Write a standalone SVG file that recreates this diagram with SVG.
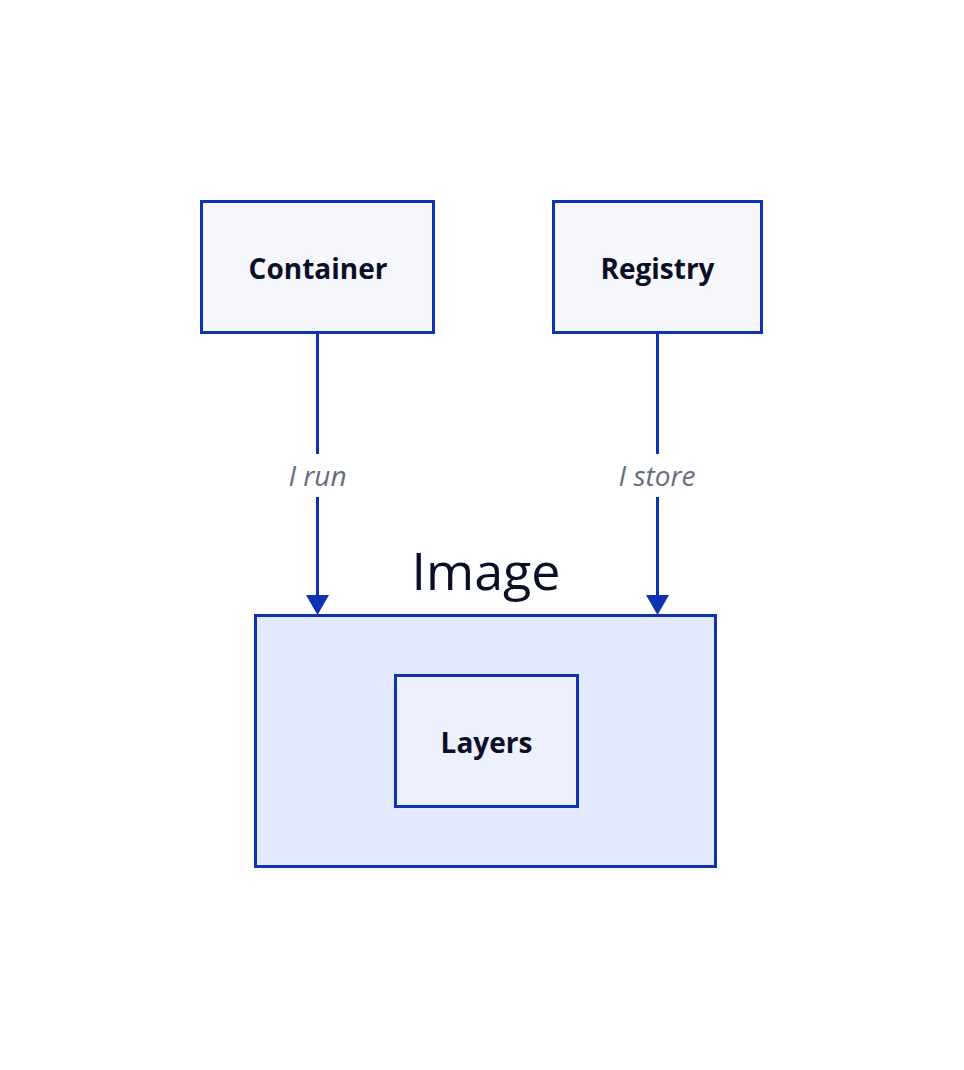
<svg xmlns="http://www.w3.org/2000/svg" width="964" height="1070" viewBox="0 0 964 1070">
<style>
.box{stroke:#0D32B2;stroke-width:3;}
.lbl{font-family:"Open Sans","Liberation Sans",sans-serif;font-weight:bold;font-size:28px;fill:#0A0F25;text-anchor:middle;}
.elbl{font-family:"Open Sans","Liberation Sans",sans-serif;font-style:italic;font-size:28px;fill:#676C7E;text-anchor:middle;}
.conn{stroke:#0D32B2;stroke-width:3;fill:none;}
</style>
<defs>
<marker id="arr" markerUnits="userSpaceOnUse" markerWidth="24" markerHeight="21" refX="23" refY="10.5" orient="auto">
<polygon points="0,0 23,10.5 0,21" fill="#0D32B2"/>
</marker>
</defs>
<rect width="964" height="1070" fill="#FFFFFF"/>
<g id="Image">
<rect class="box" x="255.5" y="615.5" width="460" height="251" fill="#E3E9FD"/>
<text x="486" y="590" style="font-family:'Open Sans','Liberation Sans',sans-serif;font-size:52px;fill:#0A0F25;text-anchor:middle;">Image</text>
</g>
<g id="Layers">
<rect class="box" x="395.5" y="675.5" width="182" height="131" fill="#EDF0FD"/>
<text class="lbl" x="486.5" y="753">Layers</text>
</g>
<g id="Container">
<rect class="box" x="201.5" y="201.5" width="232" height="131" fill="#F7F8FE"/>
<text class="lbl" x="318" y="279">Container</text>
</g>
<g id="Registry">
<rect class="box" x="553.5" y="201.5" width="208" height="131" fill="#F7F8FE"/>
<text class="lbl" x="657.5" y="279">Registry</text>
</g>
<g id="connectors">
<path class="conn" d="M317.5 333 L317.5 454 M317.5 497 L317.5 596"/>
<polygon points="306,595 329,595 317.5,615" fill="#0D32B2"/>
<text class="elbl" x="317.5" y="486">I run</text>
<path class="conn" d="M657.5 333 L657.5 454 M657.5 497 L657.5 596"/>
<polygon points="646,595 669,595 657.5,615" fill="#0D32B2"/>
<text class="elbl" x="657" y="486">I store</text>
</g>
</svg>
